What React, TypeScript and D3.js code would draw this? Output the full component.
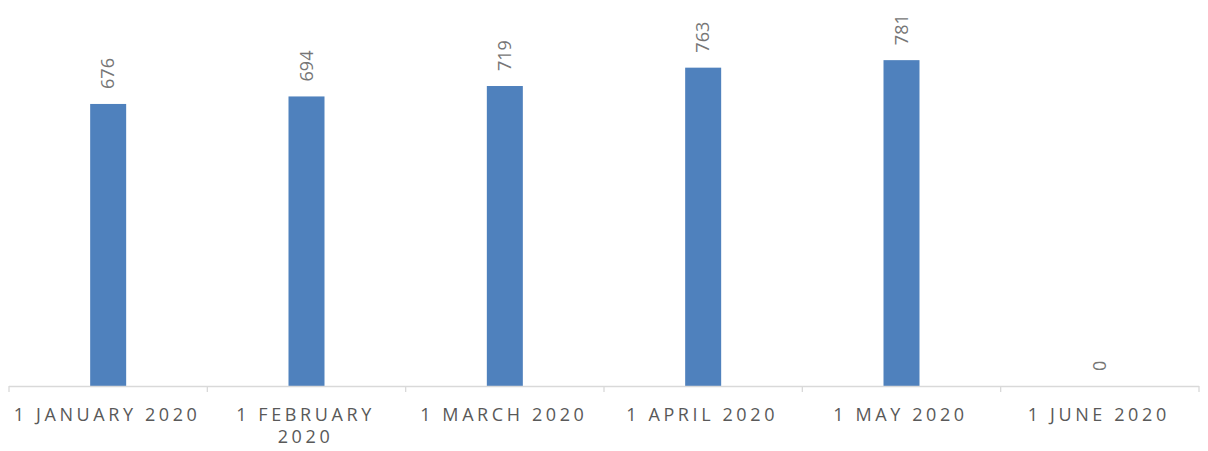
import React, { useEffect, useRef } from "react";
import * as d3 from "d3";

const categories = ["1 JANUARY 2020", "1 FEBRUARY 2020", "1 MARCH 2020", "1 APRIL 2020", "1 MAY 2020", "1 JUNE 2020"];
const values = [676, 694, 719, 763, 781, 0];
const yDomainMax = 900;

const W = 1208;
const H = 451;
const left = 9;
const right = 1199;
const baseY = 386;
const topY = 10.5;

export default function App() {
  const ref = useRef<SVGSVGElement>(null);

  useEffect(() => {
    const svg = d3.select(ref.current);
    svg.selectAll("*").remove();

    const x = d3.scaleBand<string>().domain(categories).range([left, right]).paddingInner(0).paddingOuter(0);
    const y = d3.scaleLinear().domain([0, yDomainMax]).range([baseY, topY]);
    const barW = 36;

    const data = categories.map((c, i) => ({ c, v: values[i] }));

    svg.append("g")
      .selectAll("rect")
      .data(data)
      .join("rect")
      .attr("x", (d) => (x(d.c) as number) + x.bandwidth() / 2 - barW / 2)
      .attr("y", (d) => y(d.v))
      .attr("width", barW)
      .attr("height", (d) => baseY - y(d.v))
      .attr("fill", "#4F81BD");

    // axis line + ticks
    const ax = svg.append("g");
    ax.append("line")
      .attr("x1", left).attr("x2", right)
      .attr("y1", baseY + 0.5).attr("y2", baseY + 0.5)
      .attr("stroke", "#D9D9D9").attr("stroke-width", 1.3);
    const tickXs = categories.map((c) => x(c) as number).concat([right]);
    ax.selectAll("line.tick")
      .data(tickXs)
      .join("line")
      .attr("class", "tick")
      .attr("x1", (d) => d).attr("x2", (d) => d)
      .attr("y1", baseY).attr("y2", baseY + 6)
      .attr("stroke", "#D9D9D9").attr("stroke-width", 1.3);

    // value labels
    svg.append("g")
      .selectAll("text")
      .data(data)
      .join("text")
      .attr("transform", (d) => `translate(${(x(d.c) as number) + x.bandwidth() / 2},${y(d.v) - 15}) rotate(-90)`)
      .attr("dy", "0.35em")
      .attr("text-anchor", "start")
      .attr("font-family", "'Open Sans', sans-serif")
      .attr("font-size", 18)
      .attr("fill", "#767676")
      .text((d) => String(d.v));

    // category labels with wrapping
    const lab = svg.append("g");
    categories.forEach((c) => {
      const cx = (x(c) as number) + x.bandwidth() / 2;
      const t = lab.append("text")
        .attr("font-family", "'Open Sans', sans-serif")
        .attr("font-size", 18)
        .attr("letter-spacing", 3.6)
        .attr("fill", "#595959")
        .attr("text-anchor", "middle");
      const words = c.split(" ");
      let lines: string[] = [];
      let cur: string[] = [];
      const probe = t.append("tspan");
      words.forEach((w) => {
        const test = [...cur, w].join(" ");
        probe.text(test);
        const len = (probe.node() as SVGTSpanElement).getComputedTextLength();
        if (len > x.bandwidth() && cur.length) {
          lines.push(cur.join(" "));
          cur = [w];
        } else cur.push(w);
      });
      if (cur.length) lines.push(cur.join(" "));
      probe.remove();
      lines.forEach((ln, i) => {
        t.append("tspan")
          .attr("x", cx - 1)
          .attr("y", 421 + i * 22)
          .text(ln);
      });
    });
  }, []);

  return (
    <div style={{ position: "absolute", left: 0, top: 0 }}>
      <svg ref={ref} width={W} height={H} style={{ display: "block", background: "#fff" }} />
    </div>
  );
}
